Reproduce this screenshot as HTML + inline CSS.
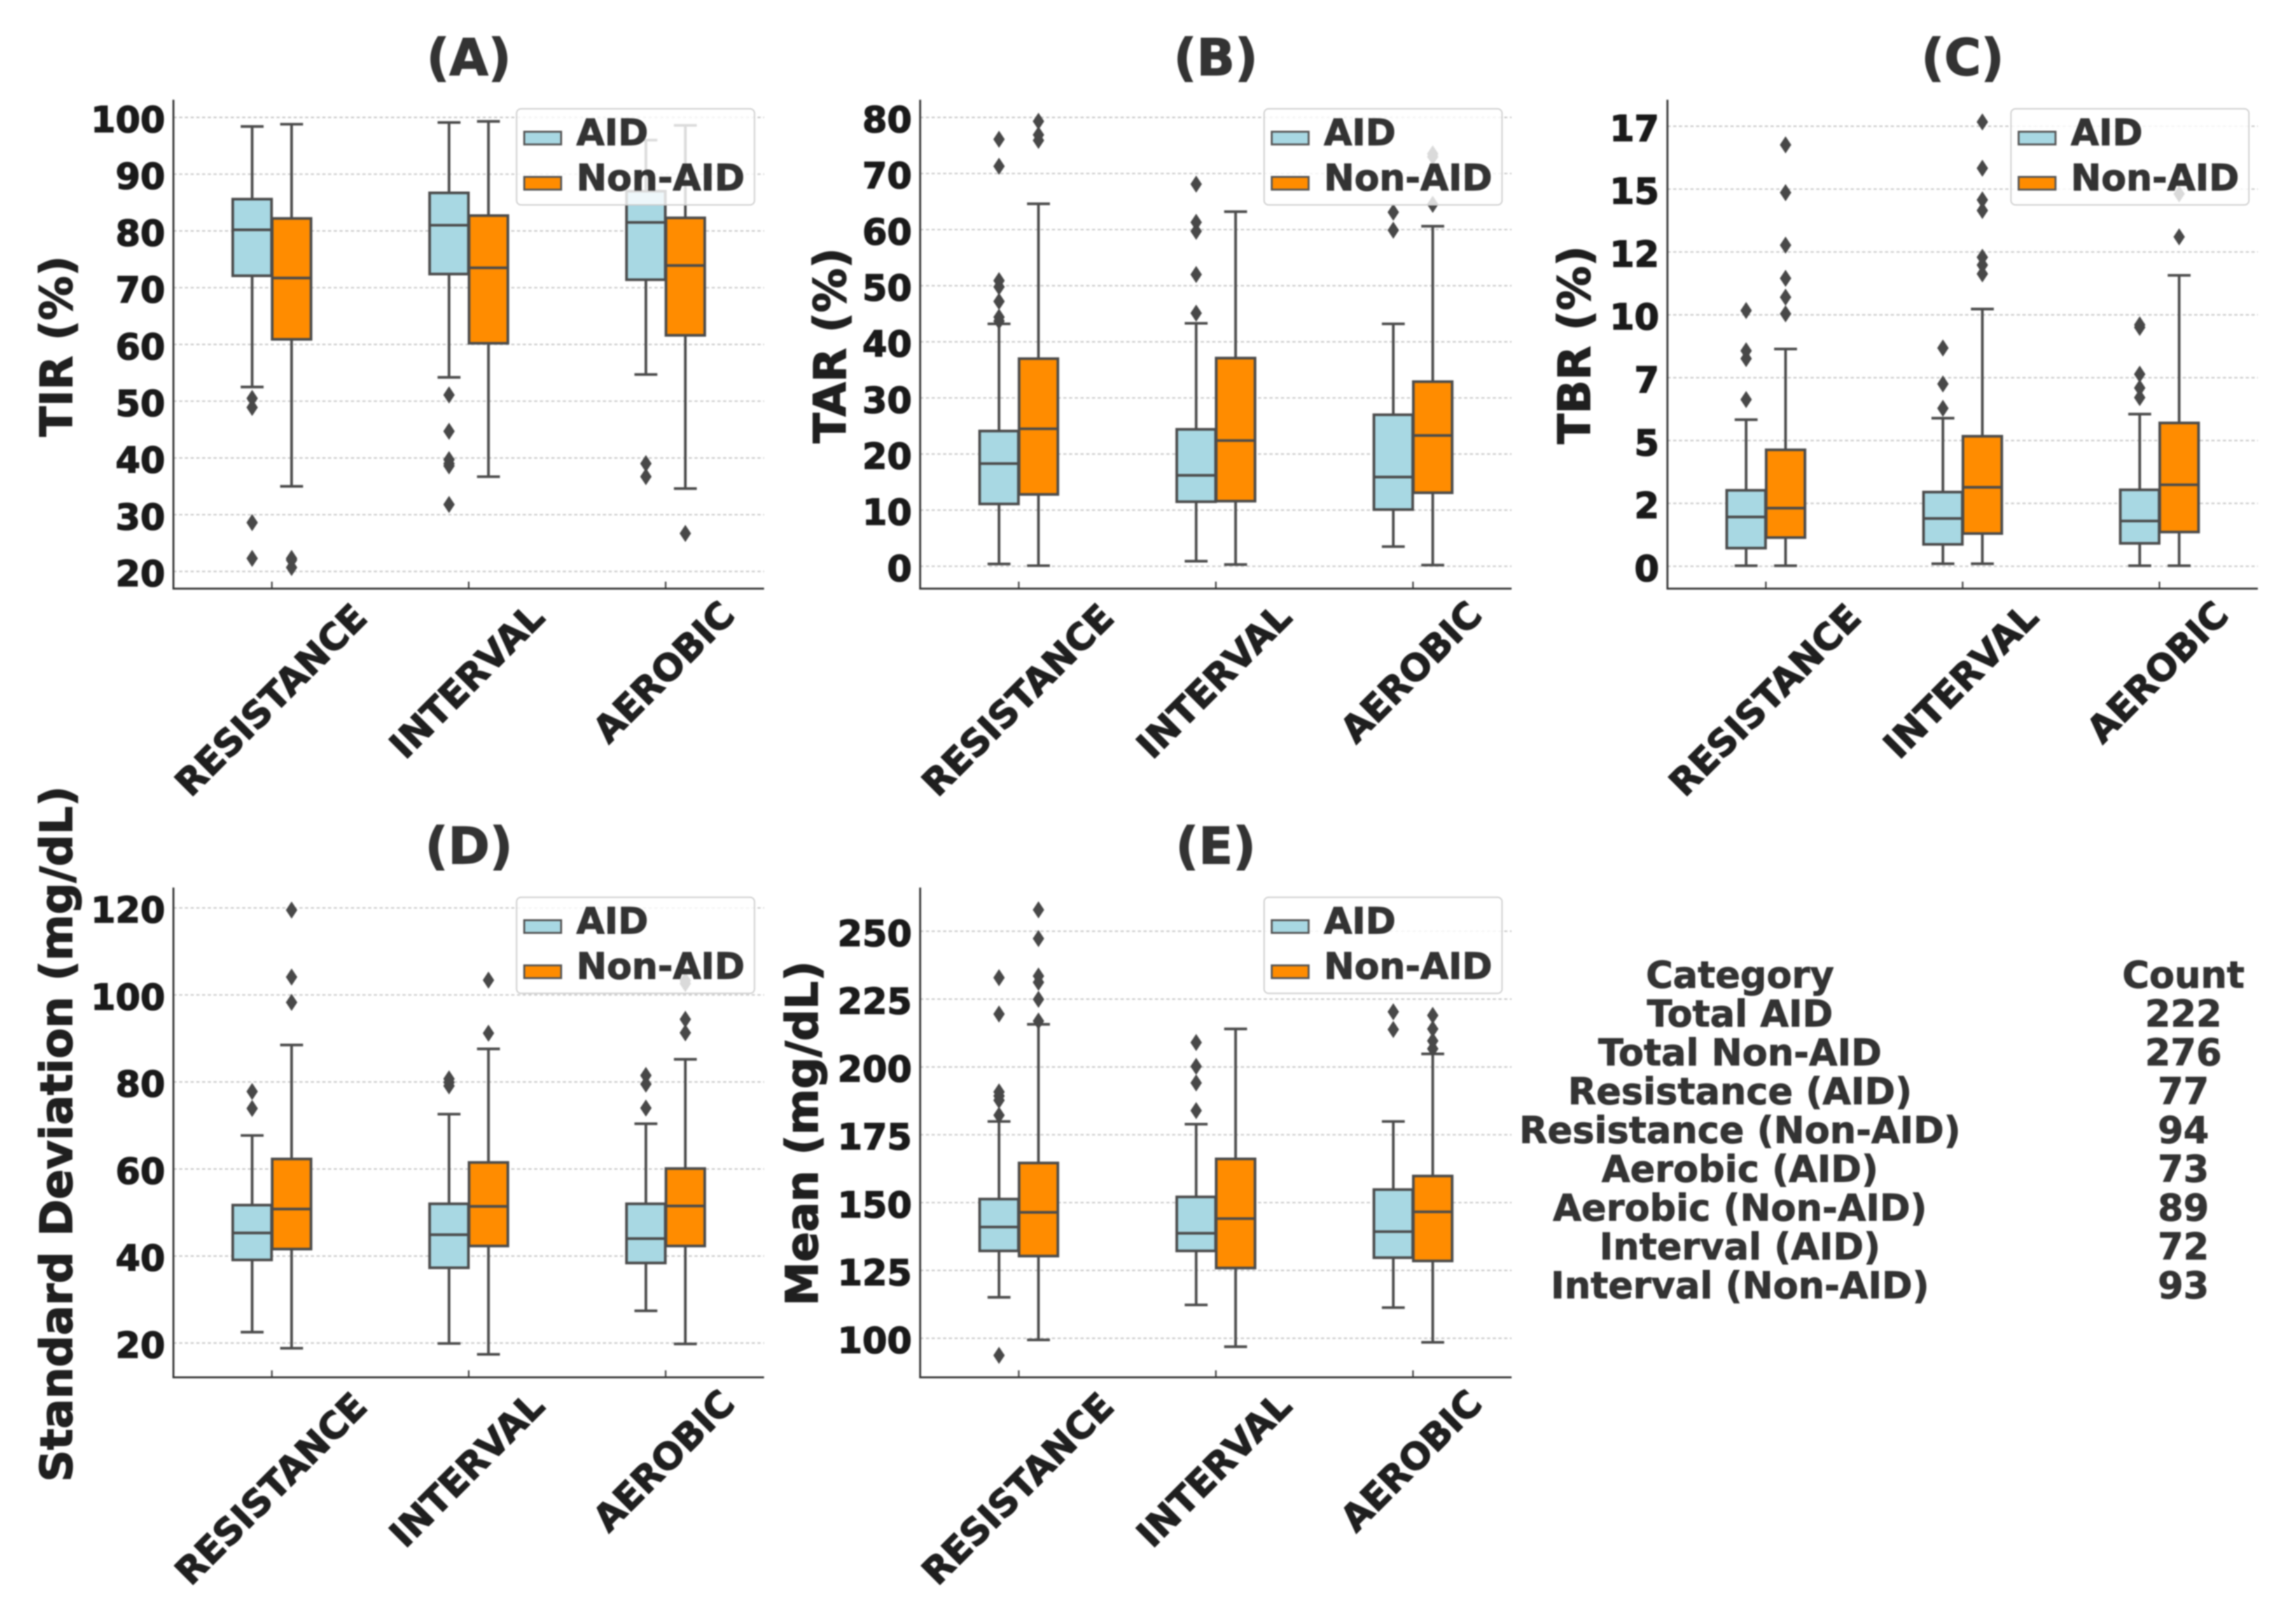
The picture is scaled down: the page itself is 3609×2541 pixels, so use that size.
<!DOCTYPE html>
<html lang="en">
<head>
<meta charset="utf-8">
<title>Glucose metrics by exercise type: AID vs Non-AID</title>
<style>
html,body{margin:0;padding:0;background:#fff;}
svg{display:block;filter:blur(1px);}
text{font-family:"DejaVu Sans","Liberation Sans",sans-serif;font-weight:700;}
.title{font-size:79px;fill:#333;stroke:#333;stroke-width:1.4px;text-anchor:middle;}
.ylab{font-size:69.5px;fill:#1f1f1f;stroke:#1f1f1f;stroke-width:1.6px;text-anchor:middle;}
.leg{font-size:57.2px;fill:#333;stroke:#333;stroke-width:1.2px;}
.tbl{font-size:57.8px;fill:#333;stroke:#333;stroke-width:1px;text-anchor:middle;}
.tick{font-size:56px;fill:#1a1a1a;stroke:#1a1a1a;stroke-width:1.6px;}
.cat{font-size:57.5px;fill:#1f1f1f;stroke:#1f1f1f;stroke-width:1.5px;text-anchor:middle;}
</style>
</head>
<body>
<svg xmlns="http://www.w3.org/2000/svg" width="3609" height="2541" viewBox="0 0 3609 2541">
<rect width="3609" height="2541" fill="#fff"/>

<g>
  <text class="title" x="737" y="118">(A)</text>
  <text class="ylab" transform="translate(113,544) rotate(-90)">TIR (%)</text>
  <g id="panel-a-marks"></g>
  <g transform="translate(812,171)">
    <rect width="374" height="151" rx="7" fill="#fff" fill-opacity=".8" stroke="#ccc" stroke-width="2"/>
    <rect x="12" y="36" width="58" height="20" fill="#a8d8e3" stroke="#555" stroke-width="3"/>
    <text class="leg" x="94" y="57">AID</text>
    <rect x="12" y="107" width="58" height="20" fill="#ff8c00" stroke="#555" stroke-width="3"/>
    <text class="leg" x="94" y="128">Non-AID</text>
  </g>
</g>

<g>
  <text class="title" x="1911" y="118">(B)</text>
  <text class="ylab" transform="translate(1329,543) rotate(-90)">TAR (%)</text>
  <g id="panel-b-marks"></g>
  <g transform="translate(1987,171)">
    <rect width="374" height="151" rx="7" fill="#fff" fill-opacity=".8" stroke="#ccc" stroke-width="2"/>
    <rect x="12" y="36" width="58" height="20" fill="#a8d8e3" stroke="#555" stroke-width="3"/>
    <text class="leg" x="94" y="57">AID</text>
    <rect x="12" y="107" width="58" height="20" fill="#ff8c00" stroke="#555" stroke-width="3"/>
    <text class="leg" x="94" y="128">Non-AID</text>
  </g>
</g>

<g>
  <text class="title" x="3085" y="118">(C)</text>
  <text class="ylab" transform="translate(2499,542) rotate(-90)">TBR (%)</text>
  <g id="panel-c-marks"></g>
  <g transform="translate(3161,171)">
    <rect width="374" height="151" rx="7" fill="#fff" fill-opacity=".8" stroke="#ccc" stroke-width="2"/>
    <rect x="12" y="36" width="58" height="20" fill="#a8d8e3" stroke="#555" stroke-width="3"/>
    <text class="leg" x="94" y="57">AID</text>
    <rect x="12" y="107" width="58" height="20" fill="#ff8c00" stroke="#555" stroke-width="3"/>
    <text class="leg" x="94" y="128">Non-AID</text>
  </g>
</g>

<g>
  <text class="title" x="737" y="1357">(D)</text>
  <text class="ylab" style="font-size:69.8px" transform="translate(113,1782) rotate(-90)">Standard Deviation (mg/dL)</text>
  <g id="panel-d-marks"></g>
  <g transform="translate(812,1410)">
    <rect width="374" height="151" rx="7" fill="#fff" fill-opacity=".8" stroke="#ccc" stroke-width="2"/>
    <rect x="12" y="36" width="58" height="20" fill="#a8d8e3" stroke="#555" stroke-width="3"/>
    <text class="leg" x="94" y="57">AID</text>
    <rect x="12" y="107" width="58" height="20" fill="#ff8c00" stroke="#555" stroke-width="3"/>
    <text class="leg" x="94" y="128">Non-AID</text>
  </g>
</g>

<g>
  <text class="title" x="1911" y="1357">(E)</text>
  <text class="ylab" transform="translate(1285,1781) rotate(-90)">Mean (mg/dL)</text>
  <g id="panel-e-marks"></g>
  <g transform="translate(1987,1410)">
    <rect width="374" height="151" rx="7" fill="#fff" fill-opacity=".8" stroke="#ccc" stroke-width="2"/>
    <rect x="12" y="36" width="58" height="20" fill="#a8d8e3" stroke="#555" stroke-width="3"/>
    <text class="leg" x="94" y="57">AID</text>
    <rect x="12" y="107" width="58" height="20" fill="#ff8c00" stroke="#555" stroke-width="3"/>
    <text class="leg" x="94" y="128">Non-AID</text>
  </g>
</g>

<g>
  <text class="tbl" x="2735" y="1552">Category</text>
  <text class="tbl" x="3432" y="1552">Count</text>
  <text class="tbl" x="2735" y="1613">Total AID</text>
  <text class="tbl" x="3432" y="1613">222</text>
  <text class="tbl" x="2735" y="1674">Total Non-AID</text>
  <text class="tbl" x="3432" y="1674">276</text>
  <text class="tbl" x="2735" y="1735">Resistance (AID)</text>
  <text class="tbl" x="3432" y="1735">77</text>
  <text class="tbl" x="2735" y="1796">Resistance (Non-AID)</text>
  <text class="tbl" x="3432" y="1796">94</text>
  <text class="tbl" x="2735" y="1857">Aerobic (AID)</text>
  <text class="tbl" x="3432" y="1857">73</text>
  <text class="tbl" x="2735" y="1918">Aerobic (Non-AID)</text>
  <text class="tbl" x="3432" y="1918">89</text>
  <text class="tbl" x="2735" y="1979">Interval (AID)</text>
  <text class="tbl" x="3432" y="1979">72</text>
  <text class="tbl" x="2735" y="2040">Interval (Non-AID)</text>
  <text class="tbl" x="3432" y="2040">93</text>
</g>
</svg>

<script>
// Shared category names
const categories = ["RESISTANCE", "INTERVAL", "AEROBIC"];

// Box statistics per category: [whisker low, Q1, median, Q3, whisker high]
const tirAidStats = [[52.5,72.1,80.2,85.6,98.4],[54.2,72.4,81,86.7,99.1],[54.7,71.4,81.5,87,96]];
const tirNonAidStats = [[35,60.9,71.7,82.2,98.8],[36.7,60.2,73.5,82.7,99.3],[34.6,61.6,73.9,82.3,98.6]];
const tirAidOutliers = [[50.5,48.9,28.6,22.3],[51.1,44.7,39.7,39,38.6,31.8],[39,36.7]];
const tirNonAidOutliers = [[22.3,22,20.7],[],[26.7]];
const tirTickValues = [20,30,40,50,60,70,80,90,100];
const tirTickLabels = ["20","30","40","50","60","70","80","90","100"];

const tarAidStats = [[0.4,11.1,18.3,24.1,43.2],[0.9,11.5,16.2,24.4,43.3],[3.5,10.1,15.9,27,43.2]];
const tarNonAidStats = [[0.1,12.8,24.5,37,64.6],[0.3,11.6,22.4,37.1,63.2],[0.2,13.1,23.3,32.9,60.6]];
const tarAidOutliers = [[76.1,71.3,50.9,49.8,47.2,44.4,43.7],[68.1,61.3,59.7,52,45.1],[63.1,59.9]];
const tarNonAidOutliers = [[79.3,76.9,75.9],[],[73.5,73,64.5]];
const tarTickValues = [0,10,20,30,40,50,60,70,80];
const tarTickLabels = ["0","10","20","30","40","50","60","70","80"];

const tbrAidStats = [[0.02,0.72,1.96,3.02,5.83],[0.1,0.87,1.9,2.95,5.89],[0.02,0.91,1.8,3.04,6.05]];
const tbrNonAidStats = [[0.02,1.14,2.31,4.63,8.64],[0.1,1.3,3.14,5.17,10.23],[0.02,1.36,3.24,5.7,11.57]];
const tbrAidOutliers = [[10.17,8.57,8.26,6.63],[8.68,7.25,6.28],[9.6,9.5,7.64,7.09,6.71]];
const tbrNonAidOutliers = [[16.76,14.86,12.77,11.45,10.7,10.04],[17.67,15.83,14.57,14.15,12.29,11.98,11.63],[14.81,13.1]];
const tbrTickValues = [0,2.5,5,7.5,10,12.5,15,17.5];
const tbrTickLabels = ["0","2","5","7","10","12","15","17"];

const sdAidStats = [[22.5,39.1,45.3,51.7,67.7],[19.9,37.3,44.9,52,72.6],[27.4,38.4,44,52,70.4]];
const sdNonAidStats = [[18.8,41.6,50.8,62.3,88.5],[17.4,42.3,51.4,61.5,87.6],[19.8,42.3,51.5,60.1,85.2]];
const sdAidOutliers = [[77.8,73.9],[80.7,79.9,79.1],[81.5,79.5,74]];
const sdNonAidOutliers = [[119.5,104.1,98.3],[103.4,91.2],[103.3,102.6,94.4,91.3]];
const sdTickValues = [20,40,60,80,100,120];
const sdTickLabels = ["20","40","60","80","100","120"];

const meanAidStats = [[115.1,132.2,141,151.3,179.9],[112.3,132.2,138.7,152.1,178.9],[111.3,129.7,139.3,154.8,179.9]];
const meanNonAidStats = [[99.4,130.3,146.4,164.6,215.7],[96.9,125.9,144.1,166.1,214],[98.5,128.5,146.6,159.8,204.8]];
const meanAidOutliers = [[232.9,219.5,190.8,189.3,187.7,182.2,93.7],[209,200.2,194.1,183.9],[220.3,213.8]];
const meanNonAidOutliers = [[257.9,247.3,233.5,231.2,224.9,216.9],[],[219,214,209.6,206.7]];
const meanTickValues = [100,125,150,175,200,225,250];
const meanTickLabels = ["100","125","150","175","200","225","250"];

// Panel frames: pixel geometry only, values come from the arrays above
const panels = [
  {id:"a", left:272.6, right:1201, top:156.7, bottom:925, domain:[20,100], range:[898,184.5], aid:tirAidStats, non:tirNonAidStats, aidOut:tirAidOutliers, nonOut:tirNonAidOutliers, ticks:tirTickValues, labels:tirTickLabels},
  {id:"b", left:1446.4, right:2376, top:156.7, bottom:925, domain:[0,80], range:[889.8,184.5], aid:tarAidStats, non:tarNonAidStats, aidOut:tarAidOutliers, nonOut:tarNonAidOutliers, ticks:tarTickValues, labels:tarTickLabels},
  {id:"c", left:2621, right:3549, top:156.7, bottom:925, domain:[0,17.5], range:[889.8,198.4], aid:tbrAidStats, non:tbrNonAidStats, aidOut:tbrAidOutliers, nonOut:tbrNonAidOutliers, ticks:tbrTickValues, labels:tbrTickLabels},
  {id:"d", left:272.6, right:1201, top:1394.8, bottom:2164.4, domain:[20,120], range:[2110.5,1426.7], aid:sdAidStats, non:sdNonAidStats, aidOut:sdAidOutliers, nonOut:sdNonAidOutliers, ticks:sdTickValues, labels:sdTickLabels},
  {id:"e", left:1446.4, right:2376, top:1394.8, bottom:2164.4, domain:[100,250], range:[2103,1463.4], aid:meanAidStats, non:meanNonAidStats, aidOut:meanAidOutliers, nonOut:meanNonAidOutliers, ticks:meanTickValues, labels:meanTickLabels}
];

const SVGNS = "http://www.w3.org/2000/svg";
const EDGE = "#4c4c4c";
const LINE = 4.2;
const BOX_W = 61;
const BOX_OFFSET = 31;
const CAP = 18;
const CAT_LABEL_DROP = [175, 145, 131];
const CAT_LABEL_SHIFT = [-1.5, -3, -3];

function make(parent, tag, attrs, text) {
  const el = document.createElementNS(SVGNS, tag);
  for (const k in attrs) el.setAttribute(k, attrs[k]);
  if (text !== undefined) el.textContent = text;
  parent.appendChild(el);
  return el;
}

function linearScale(domain, range) {
  return v => range[0] + (v - domain[0]) * (range[1] - range[0]) / (domain[1] - domain[0]);
}

function bandScale(left, right, n) {
  const band = (right - left) / n;
  return i => left + band * (i + 0.5);
}

function drawBox(g, cx, stats, outliers, fill, y, slug) {
  const [low, q1, med, q3, high] = stats;

  const whiskers = make(g, "path", {
    d: `M${cx} ${y(q3)}V${y(high)}M${cx - CAP} ${y(high)}H${cx + CAP}M${cx} ${y(q1)}V${y(low)}M${cx - CAP} ${y(low)}H${cx + CAP}`,
    fill: "none", stroke: EDGE, "stroke-width": LINE
  });
  
  

  const box = make(g, "rect", {
    x: cx - BOX_W / 2, y: y(q3), width: BOX_W, height: y(q1) - y(q3),
    fill: fill, stroke: EDGE, "stroke-width": LINE
  });
  
  

  const median = make(g, "line", {
    x1: cx - BOX_W / 2, x2: cx + BOX_W / 2, y1: y(med), y2: y(med),
    stroke: EDGE, "stroke-width": LINE
  });
  
  

  outliers.forEach(v => {
    const py = y(v);
    const dot = make(g, "polygon", {
      points: `${cx},${py - 13.5} ${cx + 9},${py} ${cx},${py + 13.5} ${cx - 9},${py}`,
      fill: "#484848"
    });
    
    
  });
}

panels.forEach(p => {
  const g = document.getElementById("panel-" + p.id + "-marks");
  const y = linearScale(p.domain, p.range);
  const x = bandScale(p.left, p.right, categories.length);

  p.ticks.forEach((t, i) => {
    const py = y(t);
    const grid = make(g, "line", {
      x1: p.left, x2: p.right, y1: py, y2: py,
      stroke: "#c8c8c8", "stroke-width": 2.2, "stroke-dasharray": "5 4"
    });
    
    

    const label = make(g, "text", {
      class: "tick", x: p.left - 13, y: py + 23, "text-anchor": "end"
    }, p.labels[i]);
    
    
  });

  categories.forEach((name, i) => {
    const cx = x(i);
    drawBox(g, cx - BOX_OFFSET, p.aid[i], p.aidOut[i], "#a8d8e3", y, "aid-" + name.toLowerCase());
    drawBox(g, cx + BOX_OFFSET, p.non[i], p.nonOut[i], "#ff8c00", y, "non-aid-" + name.toLowerCase());

    const tick = make(g, "line", {
      x1: cx, x2: cx, y1: p.bottom - 11, y2: p.bottom, stroke: "#444", "stroke-width": 2.5
    });
    
    

    const cy = p.bottom + CAT_LABEL_DROP[i];
    const lx = cx + CAT_LABEL_SHIFT[i];
    const lab = make(g, "text", {
      class: "cat", x: lx, y: cy + 20,
      transform: `rotate(-45 ${lx} ${cy})`
    }, name);
    
    
  });

  const yAxis = make(g, "line", {
    x1: p.left, x2: p.left, y1: p.top, y2: p.bottom, stroke: "#333", "stroke-width": 3
  });
  
  

  const xAxis = make(g, "line", {
    x1: p.left - 1.5, x2: p.right, y1: p.bottom, y2: p.bottom, stroke: "#333", "stroke-width": 3
  });
  
  
});
</script>
</body>
</html>
